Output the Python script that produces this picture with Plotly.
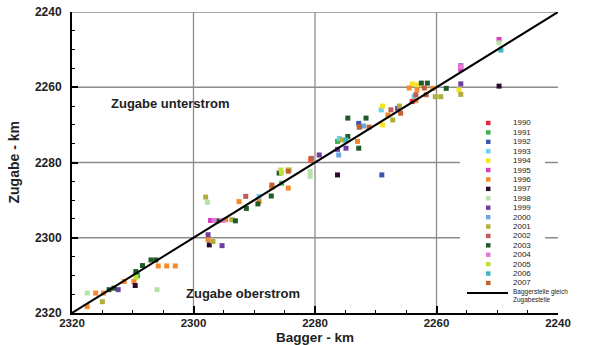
import plotly.graph_objects as go

# ---------------- data ----------------
years = ["1990", "1991", "1992", "1993", "1994", "1995", "1996", "1997", "1998",
         "1999", "2000", "2001", "2002", "2003", "2004", "2005", "2006", "2007"]
colors = ["#e8213c", "#3cb44b", "#3a56b0", "#6ccff0", "#f5e31b", "#d53ec4",
          "#f58a2a", "#2d0a30", "#b7e3a8", "#6e3fa0", "#66a8e6", "#b1ae3c",
          "#c05b55", "#1e5a2a", "#e37bd6", "#c3df3a", "#3fb5c5", "#c0622f"]

# Bagger-km (x) and Zugabe-km (y) per year
b1990 = [2280.7, 2264.0]
z1990 = [2279.3, 2263.8]
b1991 = [2309.3, 2276.3, 2285.5, 2309.2]
z1991 = [2309.5, 2274.4, 2285.5, 2310.1]
b1992 = [2269.0, 2272.8]
z1992 = [2283.3, 2269.6]
b1993 = [2276.0, 2269.1, 2289.2, 2263.7]
z1993 = [2273.6, 2266.0, 2289.0, 2262.5]
b1994 = [2268.9, 2256.3, 2264.0, 2268.9, 2263.2]
z1994 = [2265.0, 2260.7, 2259.1, 2270.0, 2259.4]
b1995 = [2256.0, 2297.2, 2249.7]
z1995 = [2255.3, 2295.4, 2247.3]
b1996 = [2317.5, 2316.1, 2314.8, 2311.4, 2309.8, 2305.8, 2304.4, 2303.0, 2297.6,
         2294.7, 2292.5, 2289.2, 2287.1, 2284.4, 2284.4, 2280.7, 2273.0, 2268.0,
         2264.5, 2260.6, 2263.4, 2263.2]
z1996 = [2318.3, 2314.7, 2314.7, 2311.6, 2311.6, 2307.5, 2307.5, 2307.5, 2300.5,
         2295.2, 2290.4, 2290.4, 2286.6, 2282.0, 2286.8, 2279.1, 2274.4, 2267.4,
         2260.2, 2260.3, 2263.5, 2260.7]
b1997 = [2309.6, 2297.4, 2276.3, 2249.7]
z1997 = [2312.7, 2301.9, 2283.3, 2259.7]
b1998 = [2317.5, 2306.0, 2297.7, 2280.8, 2280.8, 2249.7]
z1998 = [2314.7, 2313.8, 2290.6, 2282.4, 2283.7, 2248.2]
b1999 = [2312.4, 2297.6, 2295.3, 2274.9, 2279.3, 2256.0, 2256.0, 2266.4, 2276.3]
z1999 = [2313.8, 2299.2, 2302.1, 2276.2, 2278.0, 2254.3, 2259.1, 2265.6, 2276.5]
b2000 = [2276.1, 2272.0]
z2000 = [2278.0, 2270.3]
b2001 = [2315.0, 2298.0, 2296.8, 2293.7, 2275.5, 2266.1, 2260.2, 2259.3, 2256.0, 2267.2]
z2001 = [2317.0, 2289.2, 2301.0, 2295.2, 2274.0, 2265.0, 2262.5, 2262.5, 2261.9, 2268.7]
b2002 = [2291.4, 2280.6, 2272.7, 2263.4, 2261.7, 2267.5]
z2002 = [2289.0, 2278.9, 2270.6, 2262.0, 2262.0, 2266.0]
b2003 = [2313.9, 2313.1, 2308.4, 2307.0, 2306.2, 2296.1, 2293.1, 2291.3, 2289.4,
         2287.2, 2285.9, 2274.6, 2271.6, 2274.6, 2272.8, 2261.5, 2262.5, 2258.4, 2309.5]
z2003 = [2313.8, 2313.4, 2307.4, 2305.9, 2305.9, 2295.5, 2295.5, 2292.2, 2291.0,
         2288.9, 2282.8, 2268.2, 2268.2, 2273.1, 2276.2, 2258.9, 2258.9, 2260.3, 2309.0]
b2004 = [2296.6, 2295.2, 2256.0]
z2004 = [2295.4, 2295.4, 2254.5]
b2005 = [2285.5, 2285.6, 2284.2, 2309.5]
z2005 = [2282.8, 2282.0, 2282.0, 2310.5]
b2006 = [2274.9, 2249.4]
z2006 = [2274.0, 2250.1]
b2007 = [2272.7, 2271.1, 2265.9, 2262.0, 2284.4, 2287.1]
z2007 = [2270.5, 2270.6, 2266.9, 2260.2, 2282.3, 2286.0]

bagger = [b1990, b1991, b1992, b1993, b1994, b1995, b1996, b1997, b1998,
          b1999, b2000, b2001, b2002, b2003, b2004, b2005, b2006, b2007]
zugabe = [z1990, z1991, z1992, z1993, z1994, z1995, z1996, z1997, z1998,
          z1999, z2000, z2001, z2002, z2003, z2004, z2005, z2006, z2007]

line_km = [2320, 2240]
grid_x = [2300, 2280, 2260]
grid_y = [2240, 2260, 2280, 2300]
tick_vals = [2320, 2300, 2280, 2260, 2240]

# ---------------- figure ----------------
W, H = 590, 345
L, R, T, B = 72, 558, 12, 313
FONT = "Liberation Sans, Arial, sans-serif"


def px_x(x):
    return (x - L) / (R - L)


def px_y(y):
    return (B - y) / (B - T)


fig = go.Figure()

for yr, col, bx, zy in zip(years, colors, bagger, zugabe):
    fig.add_trace(go.Scatter(
        x=bx, y=zy, mode="markers", name=yr,
        marker=dict(symbol="square", size=5, color=col, line=dict(width=0)),
        showlegend=False))

fig.add_trace(go.Scatter(
    x=line_km, y=line_km, mode="lines", name="Baggerstelle gleich Zugabestelle",
    line=dict(color="black", width=2), showlegend=False))

shapes = []
for gx in grid_x:
    shapes.append(dict(type="line", xref="x", yref="paper", x0=gx, x1=gx, y0=0, y1=1,
                       line=dict(color="#8c8c8c", width=1.3), layer="below"))
for gy in grid_y:
    shapes.append(dict(type="line", xref="paper", yref="y", x0=0, x1=1, y0=gy, y1=gy,
                       line=dict(color="#8c8c8c", width=1.3), layer="below"))

# legend (drawn manually for compact rows)
shapes.append(dict(type="rect", xref="paper", yref="paper",
                   x0=px_x(460), x1=px_x(545), y0=px_y(306), y1=px_y(115),
                   fillcolor="white", line=dict(width=0), layer="above"))

annotations = []
row0, dy = 123.0, 9.41
for i, (yr, col) in enumerate(zip(years, colors)):
    cy = row0 + i * dy
    shapes.append(dict(type="rect", xref="paper", yref="paper",
                       x0=px_x(486), x1=px_x(490.5), y0=px_y(cy + 2.2), y1=px_y(cy - 2.2),
                       fillcolor=col, line=dict(width=0), layer="above"))
    annotations.append(dict(x=px_x(512), y=px_y(cy), xref="paper", yref="paper",
                            text=yr, showarrow=False, xanchor="left", yanchor="middle",
                            borderpad=0,
                            font=dict(family=FONT, size=8, color="#222222")))
ly = 293
shapes.append(dict(type="line", xref="paper", yref="paper",
                   x0=px_x(467), x1=px_x(508), y0=px_y(ly), y1=px_y(ly),
                   line=dict(color="black", width=2), layer="above"))
annotations.append(dict(x=px_x(512), y=px_y(ly + 2.5), xref="paper", yref="paper",
                        text="Baggerstelle gleich<br>Zugabestelle", showarrow=False,
                        xanchor="left", yanchor="middle", align="left", borderpad=0,
                        font=dict(family=FONT, size=6.5, color="#222222")))

annotations.append(dict(x=2303.8, y=2264.4, xref="x", yref="y", text="<b>Zugabe unterstrom</b>",
                        showarrow=False, font=dict(family=FONT, size=13, color="#222222")))
annotations.append(dict(x=2291.8, y=2314.7, xref="x", yref="y", text="<b>Zugabe oberstrom</b>",
                        showarrow=False, font=dict(family=FONT, size=13, color="#222222")))

# axis titles
annotations.append(dict(x=0.5, y=px_y(337.5), xref="paper", yref="paper",
                        text="<b>Bagger - km</b>", showarrow=False, borderpad=0,
                        xanchor="center", yanchor="middle",
                        font=dict(family=FONT, size=13.5, color="#222222")))
annotations.append(dict(x=px_x(13), y=0.5, xref="paper", yref="paper",
                        text="<b>Zugabe - km</b>", showarrow=False, textangle=-90, borderpad=0,
                        xanchor="center", yanchor="middle",
                        font=dict(family=FONT, size=14, color="#222222")))

axis_common = dict(
    tickvals=tick_vals, ticktext=[str(v) for v in tick_vals],
    showgrid=False, zeroline=False, showline=True, linecolor="black", linewidth=2,
    ticks="inside", tickcolor="black", tickwidth=1.5, automargin=False,
    minor=dict(ticks="inside", dtick=5, ticklen=3, tickcolor="black", tickwidth=1, showgrid=False),
)

fig.update_layout(
    width=W, height=H, autosize=False,
    margin=dict(l=L, r=W - R, t=T, b=H - B, pad=0),
    paper_bgcolor="white", plot_bgcolor="white",
    showlegend=False,
    shapes=shapes, annotations=annotations,
    xaxis=dict(range=[2320, 2240], ticklen=7, ticklabelstandoff=-2,
               tickfont=dict(family=FONT, size=11.5, color="#222222", weight="bold"),
               **axis_common),
    yaxis=dict(range=[2320, 2240], ticklen=6, ticklabelstandoff=6,
               tickfont=dict(family=FONT, size=12, color="#222222", weight="bold"),
               **axis_common),
)

fig.write_html("out.html")
